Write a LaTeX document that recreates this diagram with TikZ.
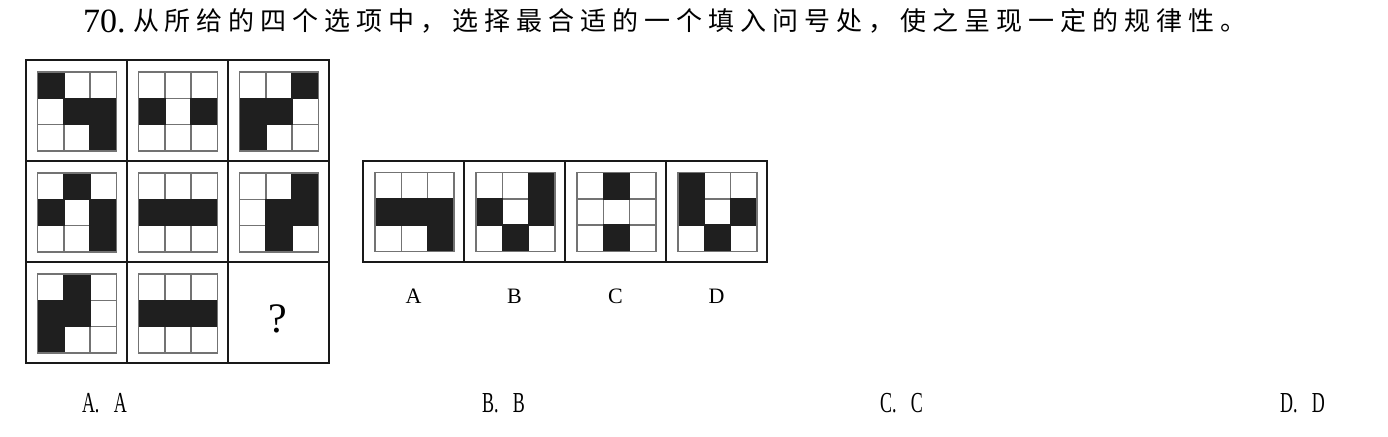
\documentclass[tikz,border=0pt]{standalone}
\usepackage{fontspec}
\usepackage{graphicx}
\setmainfont{Liberation Serif}
\newfontfamily\cjk[LetterSpace=23]{Noto Sans CJK SC}
\tikzset{
  frame/.style={draw=black!90, line width=1.8pt},
  gridln/.style={draw=black!55, line width=1.6pt},
  cellfill/.style={fill=black!88},
  txt/.style={inner sep=0pt, outer sep=0pt}
}
\newcommand{\mypat}[3]{%
  \begin{scope}[shift={(#1,#2)}]
    \foreach \i in {1,2} {
      \draw[gridln] (\i*26.333,0) -- (\i*26.333,79);
      \draw[gridln] (0,\i*26.333) -- (79,\i*26.333);
    }
    \foreach \r/\c in {#3}
      \fill[cellfill] ({(\c-1)*26.333-0.8},{(\r-1)*26.333-0.8}) rectangle ++(27.93,27.93);
    \draw[gridln] (0,0) rectangle (79,79);
  \end{scope}}
\begin{document}
\begin{tikzpicture}[x=1pt,y=-1pt]
\useasboundingbox[fill=white] (0,0) rectangle (1388,436);

% title
\node[txt, anchor=base west] (num) at (83,33) {\fontsize{34}{34}\selectfont 70.};
\node[txt, anchor=base west] (title) at (133,31) {\cjk\fontsize{26}{26}\selectfont 从所给的四个选项中，选择最合适的一个填入问号处，使之呈现一定的规律性。};

% main 3x3 grid
\draw[frame] (26,60) rectangle (329,363);
\draw[frame] (127,60) -- (127,363);
\draw[frame] (228,60) -- (228,363);
\draw[frame] (26,161) -- (329,161);
\draw[frame] (26,262) -- (329,262);

\mypat{37.5}{72}{1/1,2/2,2/3,3/3}
\mypat{138.5}{72}{2/1,2/3}
\mypat{239.5}{72}{1/3,2/1,2/2,3/1}
\mypat{37.5}{173}{1/2,2/1,2/3,3/3}
\mypat{138.5}{173}{2/1,2/2,2/3}
\mypat{239.5}{173}{1/3,2/2,2/3,3/2}
\mypat{37.5}{274}{1/2,2/1,2/2,3/1}
\mypat{138.5}{274}{2/1,2/2,2/3}
\node[txt, anchor=base] (qm) at (278,332) {\fontsize{42}{42}\selectfont ?};

% options
\draw[frame] (363,161) rectangle (767,262);
\draw[frame] (464,161) -- (464,262);
\draw[frame] (565,161) -- (565,262);
\draw[frame] (666,161) -- (666,262);
\mypat{375}{172.5}{2/1,2/2,2/3,3/3}
\mypat{476}{172.5}{1/3,2/1,2/3,3/2}
\mypat{577}{172.5}{1/2,3/2}
\mypat{678}{172.5}{1/1,2/1,2/3,3/2}

\node[txt, anchor=base] (la) at (413.5,303) {\fontsize{22}{22}\selectfont A};
\node[txt, anchor=base] (lb) at (514.5,303) {\fontsize{22}{22}\selectfont B};
\node[txt, anchor=base] (lc) at (615.5,303) {\fontsize{22}{22}\selectfont C};
\node[txt, anchor=base] (ld) at (716.5,303) {\fontsize{22}{22}\selectfont D};

% answers
\node[txt, anchor=base west] (aa) at (82,412) {\scalebox{0.62}[1]{\fontsize{29}{29}\selectfont A.\hspace{0.8em}A}};
\node[txt, anchor=base west] (ab) at (482,412) {\scalebox{0.62}[1]{\fontsize{29}{29}\selectfont B.\hspace{0.8em}B}};
\node[txt, anchor=base west] (ac) at (880,412) {\scalebox{0.62}[1]{\fontsize{29}{29}\selectfont C.\hspace{0.8em}C}};
\node[txt, anchor=base west] (ad) at (1280,412) {\scalebox{0.62}[1]{\fontsize{29}{29}\selectfont D.\hspace{0.8em}D}};
\end{tikzpicture}
\end{document}
